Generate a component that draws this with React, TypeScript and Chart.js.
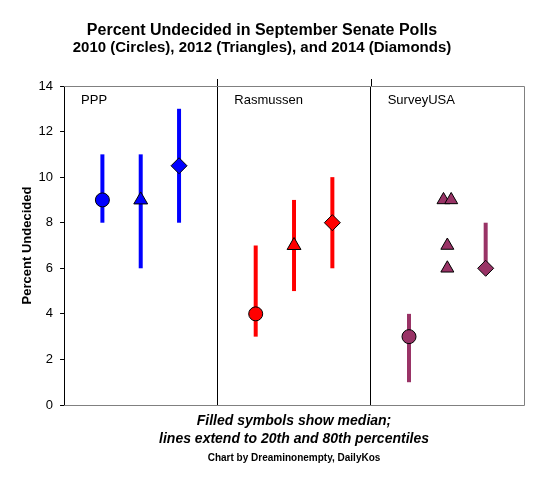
import { useEffect, useRef } from 'react';
import { Chart, registerables } from 'chart.js';

Chart.register(...registerables);

const FONT = '"Liberation Sans", Arial, sans-serif';

const titleLine1 = 'Percent Undecided in September Senate Polls';
const titleLine2 = '2010 (Circles), 2012 (Triangles), and 2014 (Diamonds)';
const footerLines = ['Filled symbols show median;', 'lines extend to 20th and 80th percentiles'];
const creditText = 'Chart by Dreaminonempty, DailyKos';
const yAxisTitle = 'Percent Undecided';
const yTicks = [0, 2, 4, 6, 8, 10, 12, 14];

const pollsters = ['PPP', 'Rasmussen', 'SurveyUSA'];
const years = ['2010', '2012', '2014'];
// where each year sits inside a pollster's panel (x units; each panel is 1 wide)
const yearSlots = [0.25, 0.5, 0.75];
const yearShapes = ['circle', 'triangle', 'rectRot'];
const colors = ['#0000FF', '#FF0000', '#993366'];

// median, 20th and 80th percentile (2010, 2012, 2014)
const pppMedian = [9, 9, 10.5];
const ppp20 = [8, 6, 8];
const ppp80 = [11, 11, 13];

const rasMedian = [4, 7, 8];
const ras20 = [3, 5, 6];
const ras80 = [7, 9, 10];

const suMedian = [3, null, 6];
const su20 = [1, null, 6];
const su80 = [4, null, 8];

// SurveyUSA 2012: individual polls
const su2012X = [2.475, 2.525, 2.5, 2.5];
const su2012Y = [9, 9, 7, 6];

const medians = [pppMedian, rasMedian, suMedian];
const lows = [ppp20, ras20, su20];
const highs = [ppp80, ras80, su80];

function buildDatasets() {
  const radiusFor: Record<string, number> = { circle: 7, triangle: 8, rectRot: 8 };
  const ds: any[] = [];
  pollsters.forEach((name, p) => {
    years.forEach((yr, j) => {
      const lo = lows[p][j];
      const hi = highs[p][j];
      if (lo == null || hi == null) return;
      const x = p + yearSlots[j];
      ds.push({
        label: `${name} ${yr} 20th-80th`,
        showLine: true,
        data: [
          { x, y: lo },
          { x, y: hi },
        ],
        borderColor: colors[p],
        backgroundColor: colors[p],
        borderWidth: 4,
        borderCapStyle: 'butt',
        pointRadius: 0,
        order: 2,
      });
    });
    const pts: any[] = [];
    const styles: string[] = [];
    const radii: number[] = [];
    years.forEach((_yr, j) => {
      const m = medians[p][j];
      if (m == null) return;
      pts.push({ x: p + yearSlots[j], y: m });
      styles.push(yearShapes[j]);
      radii.push(radiusFor[yearShapes[j]]);
    });
    if (name === 'SurveyUSA') {
      su2012X.forEach((x, k) => {
        pts.push({ x, y: su2012Y[k] });
        styles.push('triangle');
        radii.push(7.5);
      });
    }
    ds.push({
      label: `${name} median`,
      showLine: false,
      data: pts,
      pointStyle: styles,
      pointRadius: radii,
      pointBackgroundColor: colors[p],
      pointBorderColor: '#000000',
      pointBorderWidth: 1,
      backgroundColor: colors[p],
      borderColor: '#000000',
      order: 1,
    });
  });
  return ds;
}

const decorPlugin = {
  id: 'decor',
  beforeDatasetsDraw(chart: any) {
    const { ctx, chartArea: a, scales } = chart;
    ctx.save();
    // gray frame (top, right, bottom)
    ctx.strokeStyle = '#808080';
    ctx.lineWidth = 1;
    const top = Math.round(a.top) + 0.5;
    const bottom = Math.round(a.bottom) + 0.5;
    const right = Math.round(a.right) + 0.5;
    ctx.beginPath();
    ctx.moveTo(a.left, top);
    ctx.lineTo(right, top);
    ctx.lineTo(right, bottom);
    ctx.lineTo(a.left, bottom);
    ctx.stroke();
    // panel dividers poke a little above the plot
    ctx.strokeStyle = '#000000';
    ctx.beginPath();
    for (let p = 1; p < pollsters.length; p++) {
      const x = Math.round(scales.x.getPixelForValue(p)) + 0.5;
      ctx.moveTo(x, a.top - 7);
      ctx.lineTo(x, a.top);
    }
    ctx.stroke();
    // panel names
    ctx.fillStyle = '#000000';
    ctx.font = `13px ${FONT}`;
    ctx.textAlign = 'left';
    ctx.textBaseline = 'middle';
    pollsters.forEach((n, p) => {
      ctx.fillText(n, scales.x.getPixelForValue(p) + 17, a.top + 14);
    });
    // credit line
    ctx.font = `bold 10px ${FONT}`;
    ctx.textAlign = 'center';
    ctx.fillText(creditText, (a.left + a.right) / 2, scales.x.bottom + 8);
    ctx.restore();
  },
};

export default function App() {
  const ref = useRef<HTMLCanvasElement | null>(null);
  useEffect(() => {
    if (!ref.current) return;
    Chart.defaults.font.family = FONT;
    Chart.defaults.color = '#000000';
    const chart = new Chart(ref.current, {
      type: 'scatter',
      data: { datasets: buildDatasets() },
      options: {
        responsive: false,
        animation: false,
        events: [],
        layout: { padding: { left: 0, top: 0, right: 13, bottom: 34.6 } },
        plugins: {
          legend: { display: false },
          tooltip: { enabled: false },
          title: {
            display: true,
            text: titleLine1,
            color: '#000000',
            font: { size: 16, weight: 'bold', lineHeight: 1 },
            padding: { top: 22.5, bottom: 0 },
          },
          subtitle: {
            display: true,
            text: titleLine2,
            color: '#000000',
            font: { size: 15, weight: 'bold', lineHeight: 1 },
            padding: { top: 1.8, bottom: 30.7 },
          },
        },
        scales: {
          x: {
            type: 'linear',
            min: 0,
            max: pollsters.length,
            ticks: { display: false, stepSize: 1 },
            grid: {
              drawTicks: false,
              lineWidth: 1,
              color: (c: any) =>
                c.tick && c.tick.value > 0 && c.tick.value < pollsters.length ? '#000000' : 'rgba(0,0,0,0)',
            },
            border: { display: false },
            title: {
              display: true,
              text: footerLines,
              color: '#000000',
              font: { size: 14, weight: 'bold', style: 'italic', lineHeight: 1.3 },
              padding: { top: 7, bottom: 2 },
            },
          },
          y: {
            type: 'linear',
            min: yTicks[0],
            max: yTicks[yTicks.length - 1],
            afterBuildTicks: (s: any) => {
              s.ticks = yTicks.map((v) => ({ value: v }));
            },
            ticks: { color: '#000000', font: { size: 13 }, padding: 7 },
            grid: { drawOnChartArea: false, drawTicks: true, tickLength: 4, tickColor: '#000000' },
            border: { display: true, color: '#000000', width: 1 },
            title: {
              display: true,
              text: yAxisTitle,
              color: '#000000',
              font: { size: 13, weight: 'bold', lineHeight: 1.2 },
              padding: { top: 20, bottom: -4 },
            },
          },
        },
      } as any,
      plugins: [decorPlugin],
    });
    return () => chart.destroy();
  }, []);
  return (
    <div style={{ position: 'fixed', left: 0, top: 0, width: 537, height: 485, background: '#ffffff' }}>
      <canvas ref={ref} width={537} height={485} style={{ display: 'block' }} />
    </div>
  );
}
